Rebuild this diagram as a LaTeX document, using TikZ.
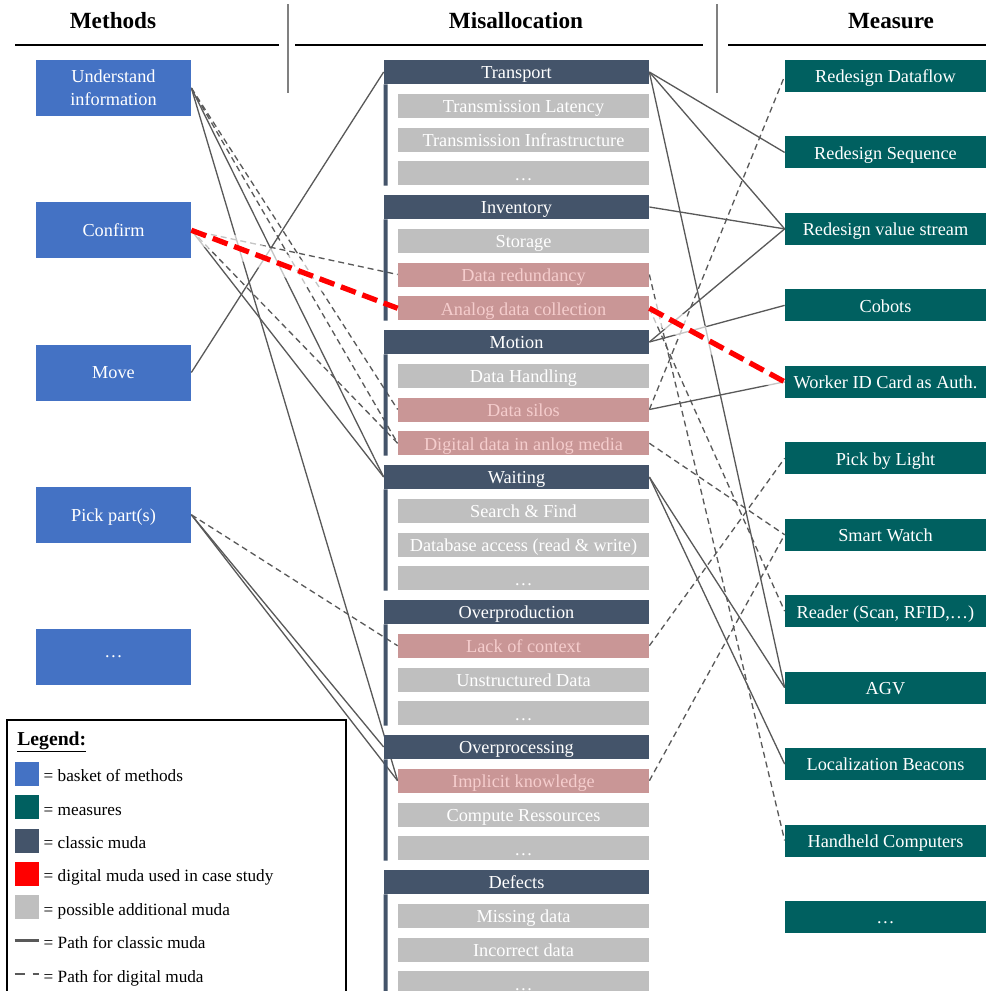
\documentclass[tikz,border=0pt]{standalone}
\usepackage{fontspec}
\setmainfont{Liberation Serif}
\usepackage{tikz}
\usetikzlibrary{positioning}

\definecolor{methodblue}{HTML}{4472C4}
\definecolor{measureteal}{HTML}{006060}
\definecolor{mudadark}{HTML}{44546A}
\definecolor{mudagrey}{HTML}{BFBFBF}
\definecolor{mudapink}{HTML}{C99696}
\definecolor{pinktext}{HTML}{F5CDCD}
\definecolor{pathgrey}{HTML}{595959}
\definecolor{sepgrey}{HTML}{808080}

\newcommand{\cellfont}{\fontsize{10.4}{13}\selectfont}
\newcommand{\headfont}{\fontsize{13.2}{15}\selectfont\bfseries}
\newcommand{\legfont}{\fontsize{9.8}{12}\selectfont}

\pgfdeclarelayer{paths}
\pgfsetlayers{paths,main}

\begin{document}
\begin{tikzpicture}[%
    on grid,
    method/.style={rectangle, fill=methodblue, text=white, minimum width=3.1cm,
      minimum height=1.12cm, inner sep=0pt, align=center, text depth=0pt,
      font=\cellfont, node distance=2.845cm},
    muda/.style={rectangle, fill=mudadark, text=white, minimum width=5.3cm,
      minimum height=0.48cm, inner sep=0pt, text height=2.0ex, text depth=0.3ex,
      font=\cellfont, node distance=2.7cm},
    extra/.style={muda, fill=mudagrey, minimum width=5.02cm, node distance=0.675cm},
    digital/.style={extra, fill=mudapink, text=pinktext},
    measure/.style={rectangle, fill=measureteal, text=white, minimum width=4.02cm,
      minimum height=0.64cm, inner sep=0pt, text height=2.0ex, text depth=0.3ex,
      font=\cellfont, node distance=1.529cm},
    title/.style={font=\headfont, inner sep=0pt},
    classic/.style={pathgrey, line width=0.75pt},
    dig/.style={classic, dash pattern=on 3.4pt off 2.3pt},
    case/.style={red, line width=3pt, dash pattern=on 9pt off 4pt},
    glow/.style={white, opacity=0.65, line width=0.44cm},
    swatch/.style={rectangle, minimum size=0.48cm, inner sep=0pt, node distance=0.668cm},
    legtext/.style={anchor=base west, inner sep=0pt, font=\legfont}
  ]
  \path[use as bounding box, clip] (0,0) rectangle (19.72,-19.82);

  \node[title] (t1) at (2.26,-0.42) {Methods};
  \node[title] (t2) at (10.32,-0.42) {Misallocation};
  \node[title] (t3) at (17.82,-0.42) {Measure};
  \draw[line width=0.6pt] (0.30,-0.90) -- (5.58,-0.90);
  \draw[line width=0.6pt] (5.90,-0.90) -- (14.06,-0.90);
  \draw[line width=0.6pt] (14.56,-0.90) -- (19.72,-0.90);
  \draw[sepgrey, line width=1.1pt] (5.755,-0.08) -- (5.755,-1.86);
  \draw[sepgrey, line width=1.1pt] (14.34,-0.08) -- (14.34,-1.86);

  \node[method] (m1) at (2.27,-1.76) {Understand\\information};
  \node[method] (m2) [below of=m1] {Confirm};
  \node[method] (m3) [below of=m2] {Move};
  \node[method] (m4) [below of=m3] {Pick part(s)};
  \node[method] (m5) [below of=m4] {…};

  \node[muda] (h1) at (10.33,-1.44) {Transport};
  \node[extra] (r11) [below of=h1, xshift=0.14cm] {Transmission Latency};
  \node[extra] (r12) [below of=r11] {Transmission Infrastructure};
  \node[extra] (r13) [below of=r12] {…};
  \node[muda] (h2) [below of=h1] {Inventory};
  \node[extra] (r21) [below of=h2, xshift=0.14cm] {Storage};
  \node[digital] (r22) [below of=r21] {Data redundancy};
  \node[digital] (r23) [below of=r22] {Analog data collection};
  \node[muda] (h3) [below of=h2] {Motion};
  \node[extra] (r31) [below of=h3, xshift=0.14cm] {Data Handling};
  \node[digital] (r32) [below of=r31] {Data silos};
  \node[digital] (r33) [below of=r32] {Digital data in anlog media};
  \node[muda] (h4) [below of=h3] {Waiting};
  \node[extra] (r41) [below of=h4, xshift=0.14cm] {Search \& Find};
  \node[extra] (r42) [below of=r41] {Database access (read \& write)};
  \node[extra] (r43) [below of=r42] {…};
  \node[muda] (h5) [below of=h4] {Overproduction};
  \node[digital] (r51) [below of=h5, xshift=0.14cm] {Lack of context};
  \node[extra] (r52) [below of=r51] {Unstructured Data};
  \node[extra] (r53) [below of=r52] {…};
  \node[muda] (h6) [below of=h5] {Overprocessing};
  \node[digital] (r61) [below of=h6, xshift=0.14cm] {Implicit knowledge};
  \node[extra] (r62) [below of=r61] {Compute Ressources};
  \node[extra] (r63) [below of=r62] {…};
  \node[muda] (h7) [below of=h6] {Defects};
  \node[extra] (r71) [below of=h7, xshift=0.14cm] {Missing data};
  \node[extra] (r72) [below of=r71] {Incorrect data};
  \node[extra] (r73) [below of=r72] {…};
  \fill[mudadark] (h1.south west) rectangle ++(0.08,-2.025)
    (h2.south west) rectangle ++(0.08,-2.025)
    (h3.south west) rectangle ++(0.08,-2.025)
    (h4.south west) rectangle ++(0.08,-2.025)
    (h5.south west) rectangle ++(0.08,-2.025)
    (h6.south west) rectangle ++(0.08,-2.025)
    (h7.south west) rectangle ++(0.08,-2.025);

  \node[measure] (s1) at (17.71,-1.52) {Redesign Dataflow};
  \node[measure] (s2) [below of=s1] {Redesign Sequence};
  \node[measure] (s3) [below of=s2] {Redesign value stream};
  \node[measure] (s4) [below of=s3] {Cobots};
  \node[measure] (s5) [below of=s4] {Worker ID Card as Auth.};
  \node[measure] (s6) [below of=s5] {Pick by Light};
  \node[measure] (s7) [below of=s6] {Smart Watch};
  \node[measure] (s8) [below of=s7] {Reader (Scan, RFID,…)};
  \node[measure] (s9) [below of=s8] {AGV};
  \node[measure] (s10) [below of=s9] {Localization Beacons};
  \node[measure] (s11) [below of=s10] {Handheld Computers};
  \node[measure] (s12) [below of=s11] {…};

  \begin{pgfonlayer}{paths}
  \path[classic] (m1.east) edge (h4.west) edge (r61.west);
  \path[classic] (m2.east) edge (h4.west);
  \path[classic] (m3.east) edge (h1.west);
  \path[classic] (m4.east) edge (h6.west) edge (r61.west);
  \path[dig] (m1.east) edge (r32.west) edge (r33.west);
  \path[dig] (m2.east) edge (r22.west) edge (r33.west);
  \path[dig] (m4.east) edge (r51.west);
  \path[classic] (h1.east) edge (s2.west) edge (s3.west) edge (s9.west);
  \path[classic] (h2.east) edge (s3.west);
  \path[classic] (h3.east) edge (s3.west) edge (s4.west);
  \path[classic] (r32.east) edge (s5.west);
  \path[classic] (h4.east) edge (s9.west) edge (s10.west);
  \path[dig] (r22.east) edge (s11.west);
  \path[dig] (r23.east) edge (s8.west);
  \path[dig] (r32.east) edge (s1.west);
  \path[dig] (r33.east) edge (s7.west);
  \path[dig] (r51.east) edge (s6.west);
  \path[dig] (r61.east) edge (s7.west);
  \path[glow] (m2.east) edge (r23.west) (r23.east) edge (s5.west);
  \end{pgfonlayer}
  \path[case] (m2.east) edge (r23.west) (r23.east) edge (s5.west);

  \draw[line width=1.4pt] (0.14,-14.40) rectangle (6.92,-20.2);
  \node[anchor=base west, inner sep=0pt, font=\fontsize{11.2}{13}\selectfont\bfseries]
    (lg) at (0.34,-14.90) {\underline{Legend:}};
  \node[swatch, fill=methodblue] (k1) at (0.54,-15.474) {};
  \node[swatch, fill=measureteal] (k2) [below of=k1] {};
  \node[swatch, fill=mudadark] (k3) [below of=k2] {};
  \node[swatch, fill=red] (k4) [below of=k3] {};
  \node[swatch, fill=mudagrey] (k5) [below of=k4] {};
  \node[swatch] (k6) [below of=k5] {};
  \node[swatch] (k7) [below of=k6] {};
  \draw[pathgrey, line width=1.5pt] (k6.west) -- (k6.east);
  \draw[pathgrey, line width=1.5pt, dash pattern=on 5.7pt off 4.5pt] (k7.west) -- (k7.east);
  \node[legtext] (l1) at ([xshift=0.08cm, yshift=-0.16cm]k1.east) {= basket of methods};
  \node[legtext] (l2) at ([xshift=0.08cm, yshift=-0.16cm]k2.east) {= measures};
  \node[legtext] (l3) at ([xshift=0.08cm, yshift=-0.16cm]k3.east) {= classic muda};
  \node[legtext] (l4) at ([xshift=0.08cm, yshift=-0.16cm]k4.east) {= digital muda used in case study};
  \node[legtext] (l5) at ([xshift=0.08cm, yshift=-0.16cm]k5.east) {= possible additional muda};
  \node[legtext] (l6) at ([xshift=0.08cm, yshift=-0.16cm]k6.east) {= Path for classic muda};
  \node[legtext] (l7) at ([xshift=0.08cm, yshift=-0.16cm]k7.east) {= Path for digital muda};
\end{tikzpicture}
\end{document}
